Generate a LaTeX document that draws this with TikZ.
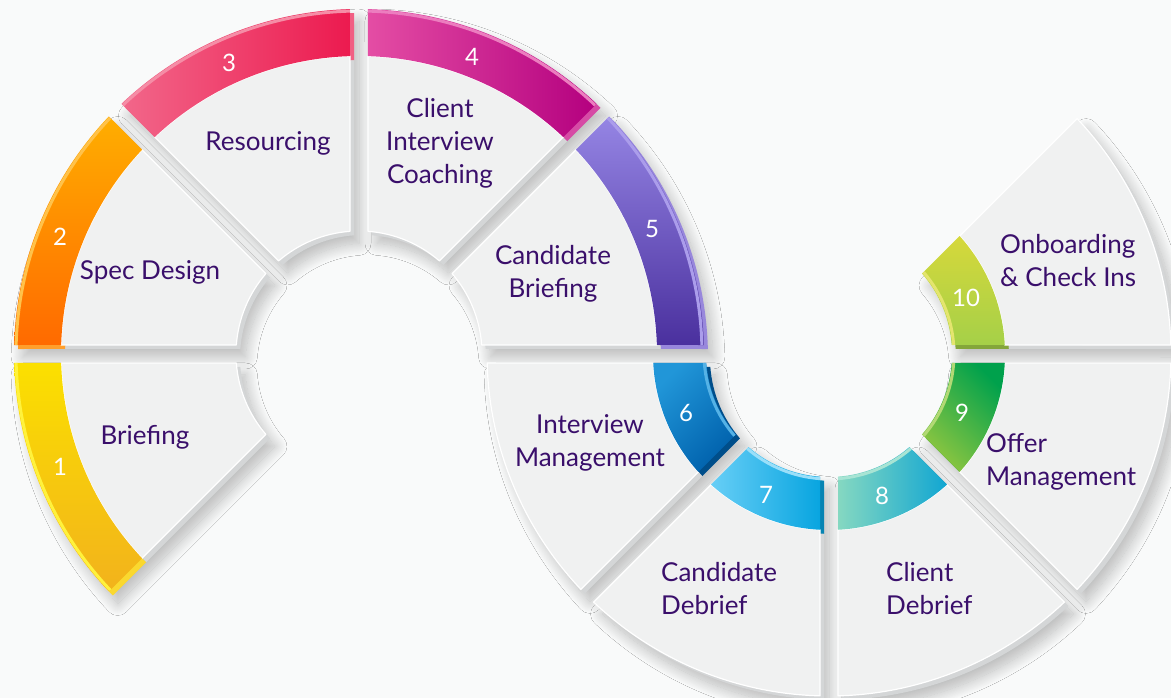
\documentclass[tikz,border=0pt]{standalone}
\usepackage{fontspec}
\setmainfont{Lato}
\usetikzlibrary{calc,shadows.blur}

\definecolor{bgc}{HTML}{F9FAFA}
\definecolor{face}{HTML}{F0F1F1}
\definecolor{side}{HTML}{D4D6D7}
\definecolor{ink}{HTML}{3A0F6B}
% band colours: a = start, b = end of the gradient, h = rim highlight
\definecolor{c1a}{HTML}{FBE000}\definecolor{c1b}{HTML}{F2B21C}\definecolor{c1h}{HTML}{FFF23C}
\definecolor{c2a}{HTML}{FFAE00}\definecolor{c2b}{HTML}{FF6A00}\definecolor{c2h}{HTML}{FFC24A}
\definecolor{c3a}{HTML}{F2678A}\definecolor{c3b}{HTML}{EC1A4F}\definecolor{c3h}{HTML}{F58DA6}
\definecolor{c4a}{HTML}{E44DA4}\definecolor{c4b}{HTML}{B4007F}\definecolor{c4h}{HTML}{EC7DBF}
\definecolor{c5a}{HTML}{9585E4}\definecolor{c5b}{HTML}{4A309E}\definecolor{c5h}{HTML}{AB9DEB}
\definecolor{c6a}{HTML}{2196D8}\definecolor{c6b}{HTML}{0061AC}\definecolor{c6h}{HTML}{55B2E6}
\definecolor{c7a}{HTML}{67CEF6}\definecolor{c7b}{HTML}{08A5E0}\definecolor{c7h}{HTML}{9ADFF9}
\definecolor{c8a}{HTML}{85D8C1}\definecolor{c8b}{HTML}{11A6D2}\definecolor{c8h}{HTML}{A8E4D4}
\definecolor{c9a}{HTML}{00A14C}\definecolor{c9b}{HTML}{8EC640}\definecolor{c9h}{HTML}{B2D974}
\definecolor{c10a}{HTML}{D6D83B}\definecolor{c10b}{HTML}{A5D048}\definecolor{c10h}{HTML}{E4E56E}

\def\gapw{9}
% one piece of a ring: centre, start angle, end angle, inner radius, outer radius, style
\newcommand\ringseg[6]{%
  \pgfmathsetmacro\angIn{asin(\gapw/#4)}%
  \pgfmathsetmacro\angOut{asin(\gapw/#5)}%
  \pgfmathsetmacro\aOutS{#2+\angOut}%
  \pgfmathsetmacro\aOutE{#3-\angOut}%
  \pgfmathsetmacro\aInS{#2+\angIn}%
  \pgfmathsetmacro\aInE{#3-\angIn}%
  \path[shift={(#1)},#6] (\aOutS:#5) arc[start angle=\aOutS, end angle=\aOutE, radius=#5]
    -- (\aInE:#4) arc[start angle=\aInE, end angle=\aInS, radius=#4] -- cycle;
}
% a light rim along one arc of a band
\newcommand\ringrim[5]{%
  \pgfmathsetmacro\angR{asin(\gapw/#4)}%
  \pgfmathsetmacro\aS{#2+\angR}%
  \pgfmathsetmacro\aE{#3-\angR}%
  \path[shift={(#1)},#5] (\aS:#4) arc[start angle=\aS, end angle=\aE, radius=#4];
}

\tikzset{
  blockface/.style={fill=face, draw=white, line width=1.2pt, line join=round},
  blockside/.style={fill=side, shift={(4,-4)}},
  bandside/.style={fill=#1, shift={(4,-4)}},
  dropshade/.style={fill=bgc, blur shadow={shadow xshift=9pt, shadow yshift=-12pt,
      shadow blur radius=12pt, shadow opacity=26, shadow blur steps=24}},
  rimline/.style={draw=#1, line width=3pt},
  label/.style={text=ink, font=\fontsize{26}{33}\selectfont, inner sep=0pt},
  num/.style={text=white, font=\fontsize{24}{28}\selectfont, inner sep=0pt},
}

\begin{document}
\begin{tikzpicture}[x=1pt,y=1pt]
  \fill[bgc] (0,0) rectangle (1171,698);
  \useasboundingbox (0,0) rectangle (1171,698);
  \coordinate (CL) at (359,344);
  \coordinate (CR) at (829,344);

  % soft drop shadows
  \foreach \c/\a/\b/\ri/\ro in {CL/180/225/123/345, CL/135/180/123/345, CL/90/135/123/345,
      CL/45/90/123/345, CL/0/45/123/345, CR/180/225/123/342, CR/225/270/123/342,
      CR/270/315/123/342, CR/315/360/123/342, CR/0/45/123/342}
    {\ringseg{\c}{\a}{\b}{\ri}{\ro}{dropshade}}

  % extruded sides of the grey blocks
  \foreach \c/\a/\b/\ri/\ro in {CL/180/225/123/298, CL/135/180/123/298, CL/90/135/123/298,
      CL/45/90/123/298, CL/0/45/123/298, CR/180/225/176/342, CR/225/270/176/342,
      CR/270/315/176/342, CR/315/360/176/342, CR/0/45/176/342}
    {\ringseg{\c}{\a}{\b}{\ri}{\ro}{blockside}}

  % extruded sides of the coloured bands
  \ringseg{CL}{180}{225}{298}{345}{bandside=c1h!60!c1b}
  \ringseg{CL}{135}{180}{298}{345}{bandside=c2h!60!c2b}
  \ringseg{CL}{90}{135}{298}{345}{bandside=c3h!60!c3b}
  \ringseg{CL}{45}{90}{298}{345}{bandside=c4h!60!c4b}
  \ringseg{CL}{0}{45}{298}{345}{bandside=c5h!80!c5b}
  \ringseg{CR}{180}{225}{123}{176}{bandside=c6b!80!black}
  \ringseg{CR}{225}{270}{123}{176}{bandside=c7b!80!black}
  \ringseg{CR}{270}{315}{123}{176}{bandside=c8b!80!black}
  \ringseg{CR}{315}{360}{123}{176}{bandside=c9a!80!black}
  \ringseg{CR}{0}{45}{123}{176}{bandside=c10b!80!black}

  % grey block faces
  \foreach \c/\a/\b/\ri/\ro in {CL/180/225/123/298, CL/135/180/123/298, CL/90/135/123/298,
      CL/45/90/123/298, CL/0/45/123/298, CR/180/225/176/342, CR/225/270/176/342,
      CR/270/315/176/342, CR/315/360/176/342, CR/0/45/176/342}
    {\ringseg{\c}{\a}{\b}{\ri}{\ro}{blockface}}

  % coloured band faces
  \ringseg{CL}{180}{225}{298}{345}{top color=c1a, bottom color=c1b}
  \ringseg{CL}{135}{180}{298}{345}{top color=c2a, bottom color=c2b}
  \ringseg{CL}{90}{135}{298}{345}{left color=c3a, right color=c3b}
  \ringseg{CL}{45}{90}{298}{345}{left color=c4a, right color=c4b}
  \ringseg{CL}{0}{45}{298}{345}{top color=c5a, bottom color=c5b}
  \ringseg{CR}{180}{225}{123}{176}{top color=c6a, bottom color=c6b, shading angle=45}
  \ringseg{CR}{225}{270}{123}{176}{left color=c7a, right color=c7b}
  \ringseg{CR}{270}{315}{123}{176}{left color=c8a, right color=c8b}
  \ringseg{CR}{315}{360}{123}{176}{top color=c9a, bottom color=c9b, shading angle=-45}
  \ringseg{CR}{0}{45}{123}{176}{top color=c10a, bottom color=c10b}

  % light rims on the bands
  \ringrim{CL}{180}{225}{343}{rimline=c1h}
  \ringrim{CL}{135}{180}{343}{rimline=c2h}
  \ringrim{CL}{90}{135}{343}{rimline=c3h}
  \ringrim{CL}{45}{90}{343}{rimline=c4h}
  \ringrim{CL}{0}{45}{343}{rimline=c5h}
  \ringrim{CR}{180}{225}{125}{rimline=c6h}
  \ringrim{CR}{225}{270}{125}{rimline=c7h}
  \ringrim{CR}{270}{315}{125}{rimline=c8h}
  \ringrim{CR}{315}{360}{125}{rimline=c9h}
  \ringrim{CR}{0}{45}{125}{rimline=c10h}

  % step numbers
  \node[num] (n1) at (60,231) {1};
  \node[num] (n2) at (60,461) {2};
  \node[num] (n3) at (229,635) {3};
  \node[num] (n4) at (472,641) {4};
  \node[num] (n5) at (652,469) {5};
  \node[num] (n6) at (686,285) {6};
  \node[num] (n7) at (766,203) {7};
  \node[num] (n8) at (882,202) {8};
  \node[num] (n9) at (962,285) {9};
  \node[num] (n10) at (966,400) {10};

  % step labels
  \node[label] (t1) at (145,261) {Briefing};
  \node[label] (t2) at (150,426) {Spec Design};
  \node[label] (t3) at (268,555) {Resourcing};
  \node[label, align=center] (t4) at (440,555) {Client\\Interview\\Coaching};
  \node[label, align=center] (t5) at (553,424.5) {Candidate\\Briefing};
  \node[label, align=center] (t6) at (590,255.5) {Interview\\Management};
  \node[label, align=left, anchor=west] (t7) at (661,109) {Candidate\\Debrief};
  \node[label, align=left, anchor=west] (t8) at (886,109) {Client\\Debrief};
  \node[label, align=left, anchor=west] (t9) at (986,236.5) {Offer\\Management};
  \node[label, align=left, anchor=west] (t10) at (1000,437) {Onboarding\\\& Check Ins};
\end{tikzpicture}
\end{document}
